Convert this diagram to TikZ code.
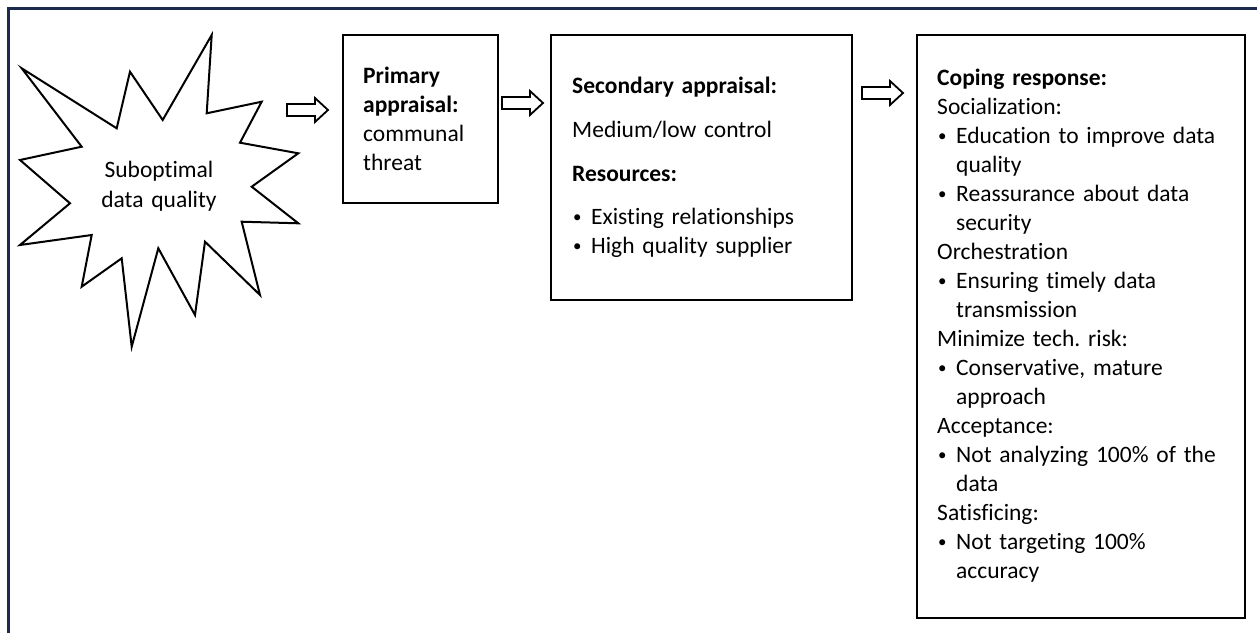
\documentclass[tikz,border=0pt]{standalone}
\usepackage{fontspec}
\setmainfont{Carlito}[Ligatures=NoCommon]
\frenchspacing
\definecolor{framenavy}{RGB}{28,42,78}
% bullet and hanging indent for list lines
\newcommand{\bul}{\makebox[19pt][l]{\hspace{1pt}\raisebox{1.6pt}{\scalebox{0.72}{•}}}}
\newcommand{\cont}{\hspace*{19pt}}
\begin{document}
\begin{tikzpicture}[x=1pt,y=-1pt,
  box/.style={draw=black,line width=2pt,inner sep=0pt,anchor=north west},
  txt/.style={anchor=base west,inner sep=0pt,align=left,text width=320pt,
    font=\fontsize{23.5}{29}\selectfont},
  blockarr/.pic={
    \draw[black,line width=1.8pt,line join=miter,fill=white]
      (-20.5,-6) -- (7.5,-6) -- (7.5,-12) -- (20.5,0) -- (7.5,12)
      -- (7.5,6) -- (-20.5,6) -- cycle;}]
\useasboundingbox (0,0) rectangle (1257,632);
\clip (0,0) rectangle (1257,632);

% outer frame
\draw[framenavy,line width=2.8pt] (8.7,8.7) rectangle (1300,680);

% starburst
\draw[black,line width=2pt,line join=miter,fill=white]
  (211.7,35) -- (206.7,113.3) -- (261.7,101.7) -- (240,142.7) -- (298.3,153.3)
  -- (251.7,186.7) -- (298.3,223.3) -- (241.7,221.7) -- (260,295) -- (205,241.7)
  -- (195,315) -- (158.3,248.3) -- (131.7,346.7) -- (121.7,258.3) -- (81.7,286.7)
  -- (91.7,235) -- (20,245) -- (70,203.3) -- (20,160) -- (81.7,146.7)
  -- (21.7,68.3) -- (116.7,128.3) -- (130,71.7) -- (162.7,120) -- cycle;
\node[align=center,inner sep=0pt,text width=160pt,
  font=\fontsize{23.5}{30}\selectfont,anchor=base]
  (startxt) at (159,177) {Suboptimal\\data quality};

% boxes
\node[box,minimum width=155pt,minimum height=168pt] (prim) at (342,34) {};
\node[box,minimum width=301pt,minimum height=265pt] (sec) at (550,34) {};
\node[box,minimum width=328pt,minimum height=583pt] (cope) at (916,34) {};

\node[txt] (primtxt) at ([shift={(21,49)}]prim.north west)
  {\textbf{Primary}\\\textbf{appraisal:}\\communal\\threat};

\node[txt] (sectxt) at ([shift={(22,59)}]sec.north west)
  {\textbf{Secondary appraisal:}\\[15pt]
   Medium/low control\\[15pt]
   \textbf{Resources:}\\[14pt]
   \bul Existing relationships\\
   \bul High quality supplier};

\node[txt] (copetxt) at ([shift={(21,51)}]cope.north west)
  {\textbf{Coping response:}\\
   Socialization:\\
   \bul Education to improve data\\
   \cont quality\\
   \bul Reassurance about data\\
   \cont security\\
   Orchestration\\
   \bul Ensuring timely data\\
   \cont transmission\\
   Minimize tech. risk:\\
   \bul Conservative, mature\\
   \cont approach\\
   Acceptance:\\
   \bul Not analyzing 100\% of the\\
   \cont data\\
   Satisficing:\\
   \bul Not targeting 100\%\\
   \cont accuracy};

% block arrows between stages
\pic (arr1) at (307.5,110) {blockarr};
\pic (arr2) at (522.5,103) {blockarr};
\pic (arr3) at (882.5,93) {blockarr};
\end{tikzpicture}
\end{document}
